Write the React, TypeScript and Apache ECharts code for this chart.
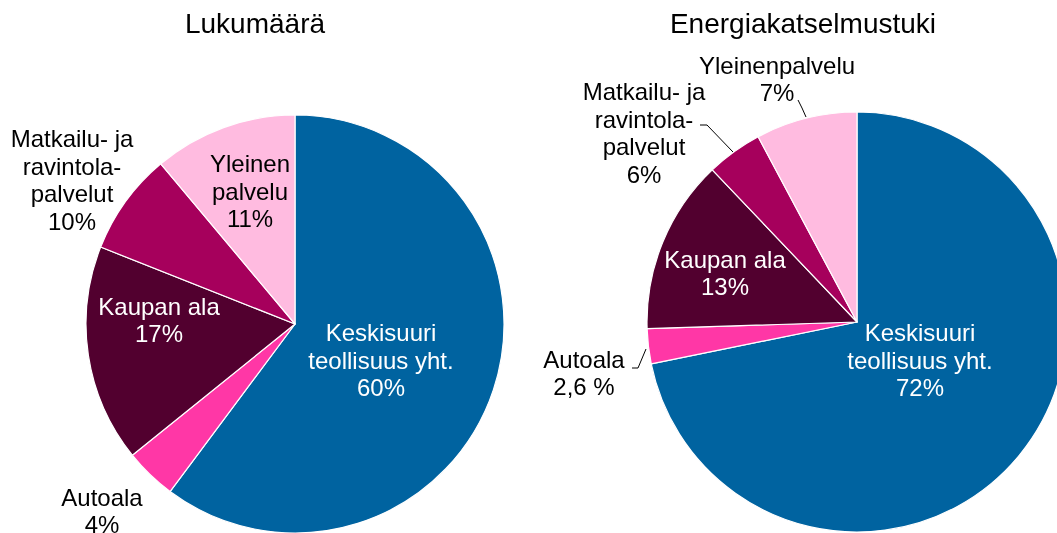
import React, { useEffect, useRef } from 'react';
import * as echarts from 'echarts';

const categories = ['Keskisuuri teollisuus yht.', 'Autoala', 'Kaupan ala', 'Matkailu- ja ravintolapalvelut', 'Yleinen palvelu'];
const countLabels = ['Keskisuuri\nteollisuus yht.', 'Autoala', 'Kaupan ala', 'Matkailu- ja\nravintola-\npalvelut', 'Yleinen\npalvelu'];
const countValues = [60.2, 4.0, 16.8, 7.9, 11.1];
const countPct = ['60%', '4%', '17%', '10%', '11%'];
const subsidyLabels = ['Keskisuuri\nteollisuus yht.', 'Autoala', 'Kaupan ala', 'Matkailu- ja\nravintola-\npalvelut', 'Yleinenpalvelu'];
const subsidyValues = [71.8, 2.7, 13.4, 4.3, 7.8];
const subsidyPct = ['72%', '2,6 %', '13%', '6%', '7%'];
const titles = ['Lukumäärä', 'Energiakatselmustuki'];
const colors = ['#0063A0', '#FF37A6', '#52002F', '#A6005C', '#FFBBE0'];

const FONT = "'Liberation Sans', Arial, sans-serif";

const leftPos = [[381, 360], [102, 511], [159, 320], [72, 180], [250, 191]];
const rightPos = [[920, 360], [584, 373], [725, 273], [644, 133], [777, 79]];
const rightLines: Record<number, number[][]> = {
  1: [[646, 349], [638, 368], [632, 368]],
  3: [[733, 152], [707, 125], [700, 125]],
  4: [[806, 117], [802, 108], [798, 100]],
};

const labelColorLeft = ['#fff', '#000', '#fff', '#000', '#000'];
const labelColorRight = ['#fff', '#000', '#fff', '#000', '#000'];

function buildData(values: number[], pct: string[], lbl: string[], lblColor: string[], lineShow: boolean[]) {
  return values.map((v, i) => ({
    value: v,
    name: categories[i],
    itemStyle: { color: colors[i] },
    label: {
      formatter: lbl[i] + '\n' + pct[i],
      color: lblColor[i],
    },
    labelLine: { show: lineShow[i] },
  }));
}

export default function App() {
  const ref = useRef<HTMLDivElement>(null);
  useEffect(() => {
    if (!ref.current) return;
    const chart = echarts.init(ref.current, null, { renderer: 'svg' });
    const baseSeries = {
      type: 'pie',
      startAngle: 90,
      clockwise: true,
      avoidLabelOverlap: false,
      itemStyle: { borderColor: '#fff', borderWidth: 1.2 },
      label: {
        show: true,
        position: 'outside',
        fontFamily: FONT,
        fontSize: 24,
        lineHeight: 27.5,
        align: 'center',
      },
      labelLine: { lineStyle: { color: '#000', width: 1 }, length: 5, length2: 5 },
      emphasis: { disabled: true },
    };
    chart.setOption({
      animation: false,
      graphic: [
        { type: 'text', x: 255, y: 23, style: { text: titles[0], fontSize: 28, fontFamily: FONT, fill: '#000', align: 'center', verticalAlign: 'middle' } },
        { type: 'text', x: 803, y: 23, style: { text: titles[1], fontSize: 28, fontFamily: FONT, fill: '#000', align: 'center', verticalAlign: 'middle' } },
      ],
      series: [
        {
          ...baseSeries,
          center: [295, 324],
          radius: 209,
          data: buildData(countValues, countPct, countLabels, labelColorLeft, [false, false, false, false, false]),
          labelLayout: (p: any) => ({
            x: leftPos[p.dataIndex][0],
            y: leftPos[p.dataIndex][1],
            align: 'center',
            verticalAlign: 'middle',
          }),
        },
        {
          ...baseSeries,
          center: [857, 322],
          radius: 210,
          data: buildData(subsidyValues, subsidyPct, subsidyLabels, labelColorRight, [false, true, false, true, true]),
          labelLayout: (p: any) => ({
            x: rightPos[p.dataIndex][0],
            y: rightPos[p.dataIndex][1],
            align: 'center',
            verticalAlign: 'middle',
            labelLinePoints: rightLines[p.dataIndex],
          }),
        },
      ],
    });
    return () => chart.dispose();
  }, []);
  return <div ref={ref} style={{ position: 'fixed', left: 0, top: 0, width: 1057, height: 533 }} />;
}
